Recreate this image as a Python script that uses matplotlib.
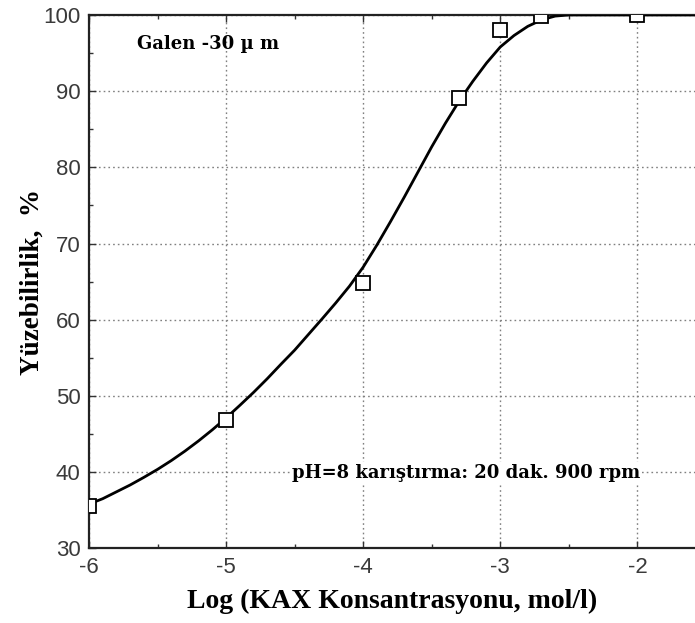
import matplotlib
matplotlib.use('Agg')
from matplotlib import pyplot as plt
from matplotlib.ticker import MultipleLocator

plt.rcParams['axes.unicode_minus'] = False

# measured points
log_kax = [-6.0, -5.0, -4.0, -3.3, -3.0, -2.7, -2.0]
yuzebilirlik = [35.5, 46.8, 64.8, 89.1, 98.0, 99.8, 100.0]

# fitted curve, every 0.1
curve_x = [-6.0, -5.9, -5.8, -5.7, -5.6, -5.5, -5.4, -5.3, -5.2, -5.1,
           -5.0, -4.9, -4.8, -4.7, -4.6, -4.5, -4.4, -4.3, -4.2, -4.1,
           -4.0, -3.9, -3.8, -3.7, -3.6, -3.5, -3.4, -3.3, -3.2, -3.1,
           -3.0, -2.9, -2.8, -2.7, -2.6, -2.5, -1.5]
curve_y = [35.8, 36.5, 37.4, 38.3, 39.3, 40.35, 41.5, 42.75, 44.1, 45.55,
           47.1, 48.75, 50.45, 52.25, 54.15, 56.0, 58.05, 60.1, 62.2, 64.4,
           66.9, 69.8, 72.9, 76.1, 79.4, 82.7, 85.8, 88.7, 91.3, 93.7,
           95.8, 97.3, 98.5, 99.35, 99.85, 100.0, 100.0]

xticks = [-6, -5, -4, -3, -2]
yticks = [30, 40, 50, 60, 70, 80, 90, 100]

fig = plt.figure(figsize=(6.95, 6.23), dpi=100)
ax = fig.add_axes([0.128, 0.120, 0.872, 0.856])

ax.plot(curve_x, curve_y, color='black', lw=2.0, zorder=3, solid_joinstyle='round')
ax.plot(log_kax, yuzebilirlik, ls='none', marker='s', ms=10, mfc='white',
        mec='black', mew=1.3, zorder=4)

ax.set_xlim(-6, -1.58)
ax.set_ylim(30, 100)
ax.set_xticks(xticks)
ax.set_yticks(yticks)
ax.xaxis.set_minor_locator(MultipleLocator(0.5))
ax.yaxis.set_minor_locator(MultipleLocator(5))
ax.tick_params(which='both', direction='in', top=True, right=False, color='#333333')
ax.tick_params(which='major', length=5, width=1.0, labelsize=16, labelcolor='#3a3a3a', pad=6)
ax.tick_params(which='minor', length=3, width=1.0)
for lab in ax.get_xticklabels() + ax.get_yticklabels():
    lab.set_family('Liberation Sans')

ax.grid(True, which='major', ls=(0, (1.2, 2.2)), color='#808080', lw=1.0)
for s in ['left', 'bottom', 'top']:
    ax.spines[s].set_color('#222222')
    ax.spines[s].set_linewidth(1.6)
ax.spines['right'].set_visible(False)

ax.set_xlabel('Log (KAX Konsantrasyonu, mol/l)', family='Liberation Serif',
              fontweight='bold', fontsize=20, labelpad=8)
ax.set_ylabel('Yüzebilirlik,  %', family='Liberation Serif',
              fontweight='bold', fontsize=19.5, labelpad=-1)

ax.text(-5.65, 96.2, 'Galen -30 µ m', family='DejaVu Serif', fontweight='bold',
        fontsize=13, ha='left', va='center')
ax.text(-4.52, 39.9, 'pH=8 karıştırma: 20 dak. 900 rpm', family='DejaVu Serif',
        fontweight='bold', fontsize=13, ha='left', va='center',
        bbox=dict(fc='white', ec='none', pad=1))

plt.savefig('out.png', dpi=100)
